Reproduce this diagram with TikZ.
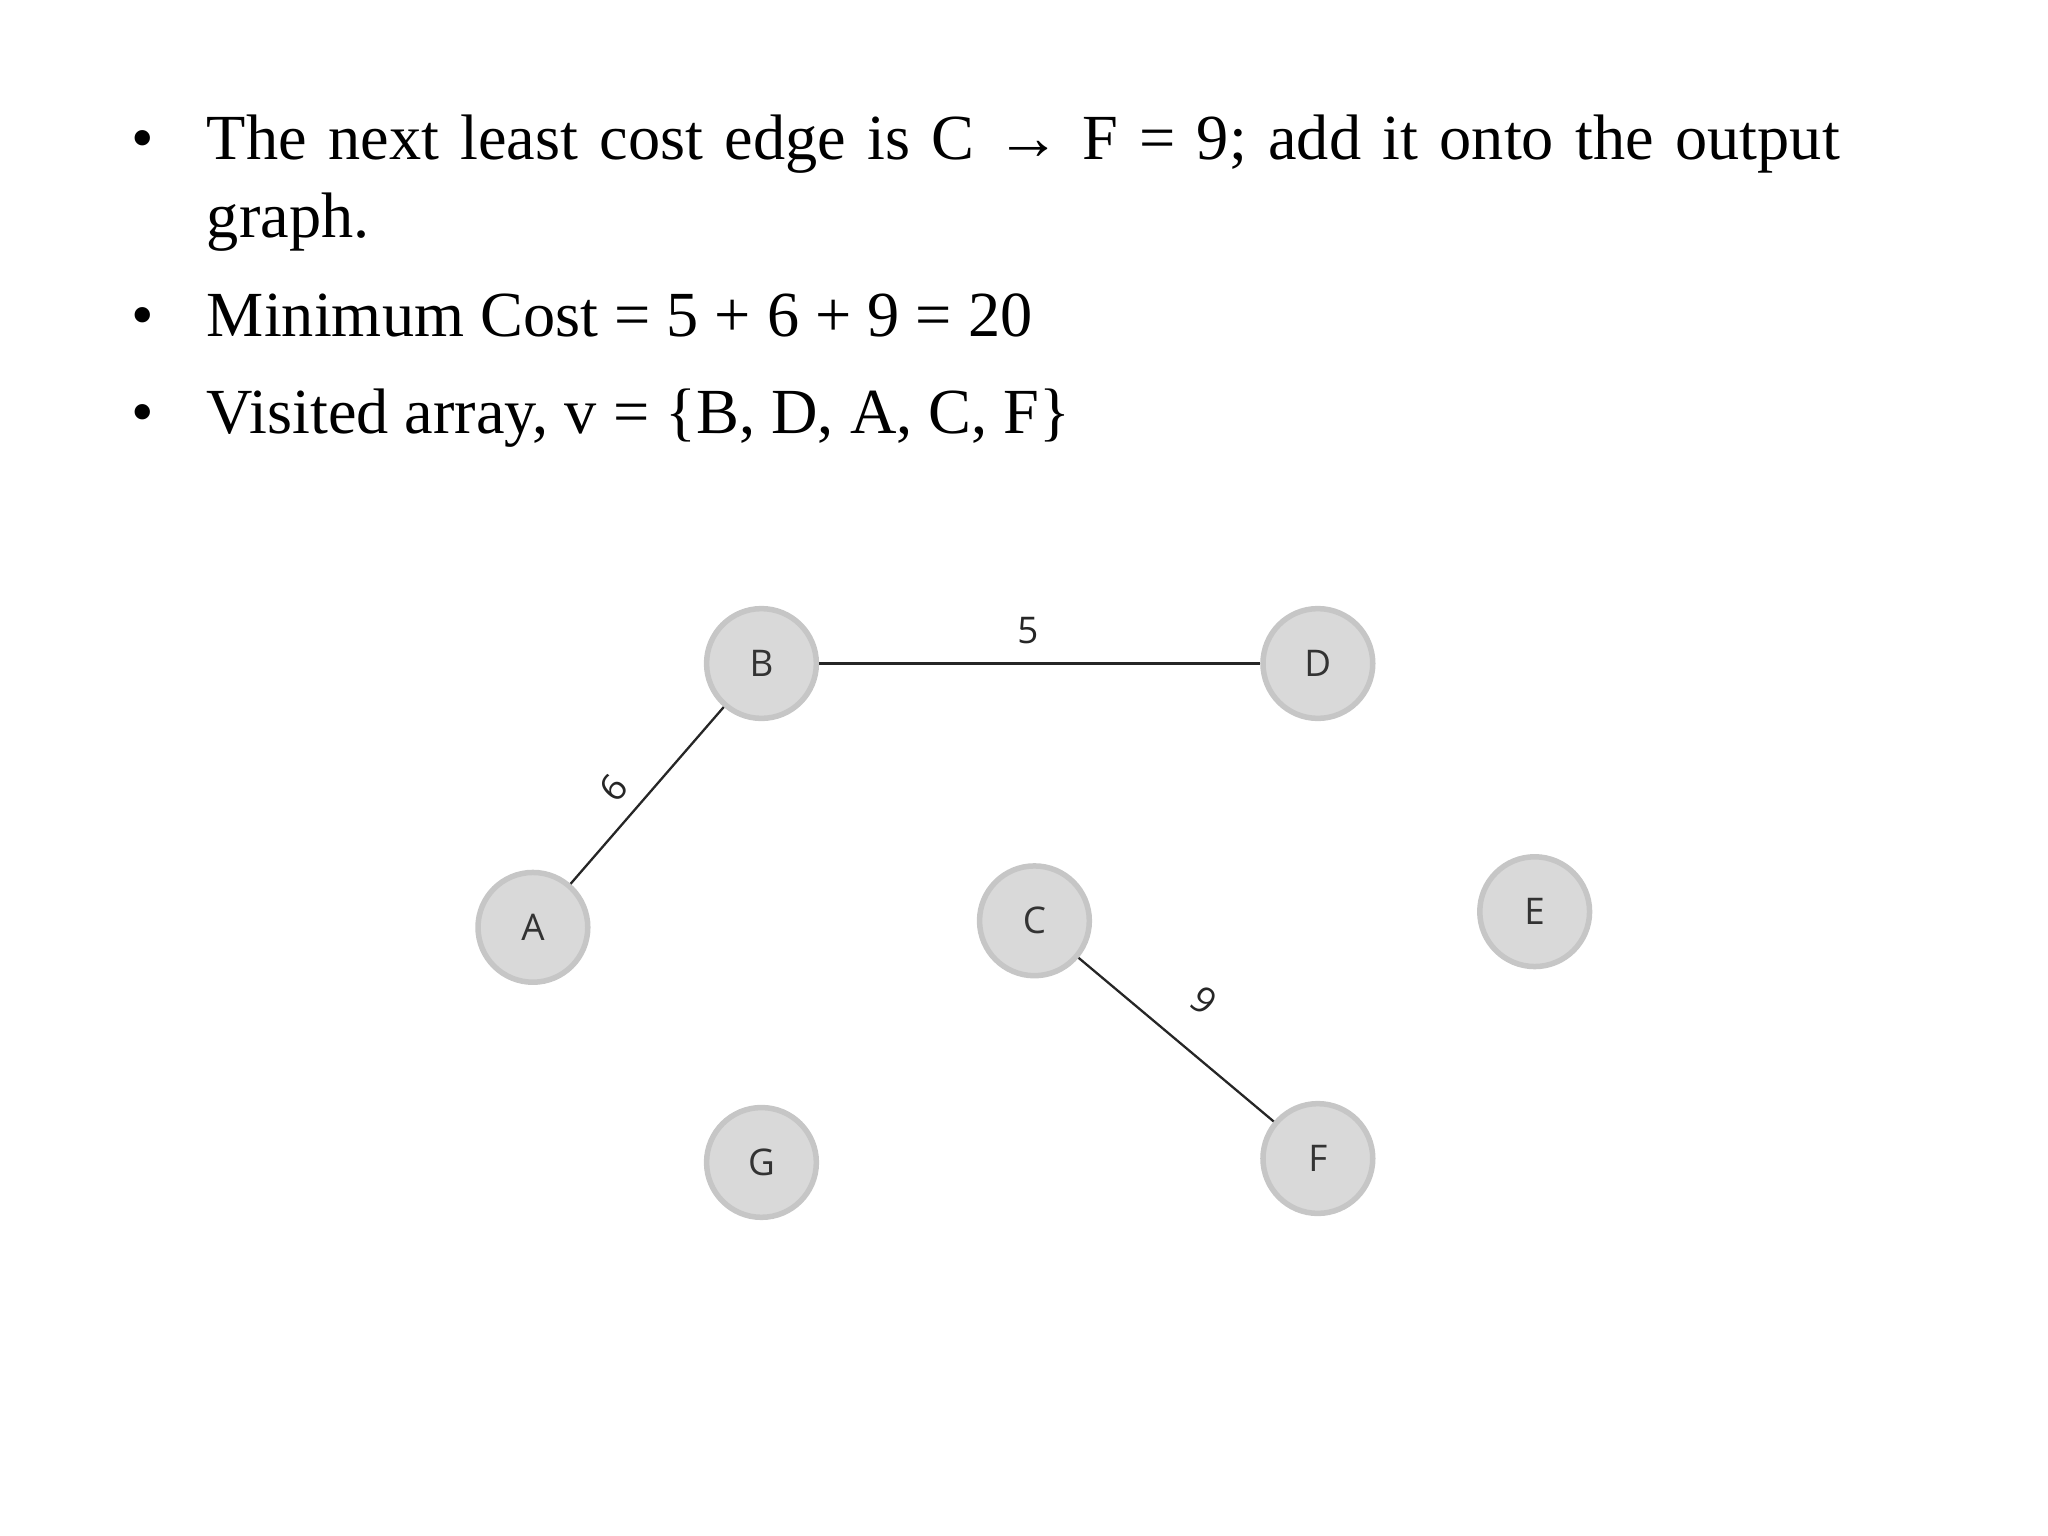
\documentclass[tikz,border=0pt]{standalone}
\usepackage{fontspec}
\setmainfont{Liberation Serif}
\newfontfamily\lblfont{Open Sans}
\begin{document}
\begin{tikzpicture}[x=0.01cm,y=-0.01cm,
  vtx/.style={circle,draw=gray!45,line width=1.2pt,fill=gray!30,minimum size=0.84cm,inner sep=0pt,font=\lblfont\fontsize{8}{9}\selectfont,text=black!80},
  edge/.style={draw=black!85,line width=0.5pt},
  wlbl/.style={font=\lblfont\fontsize{8}{9}\selectfont,text=black!85},
  bul/.style={anchor=base west,font=\fontsize{14}{17}\selectfont,align=left}]
\useasboundingbox (0,0) rectangle (1568,1176);
\node[bul] (b1) at (88,122) {•};
\node[bul,text width=13.2cm] (t1) at (146,122) {The next least cost edge is C → F = 9; add it onto the output graph.};
\node[bul] (b2) at (88,258) {•};
\node[bul] (t2) at (146,258) {Minimum Cost = 5 + 6 + 9 = 20};
\node[bul] (b3) at (88,332) {•};
\node[bul] (t3) at (146,332) {Visited array, v = \{B, D, A, C, F\}};
\node[vtx] (B) at (583,508) {B};
\node[vtx] (D) at (1009,508) {D};
\node[vtx] (A) at (408,710) {A};
\node[vtx] (C) at (792,705) {C};
\node[vtx] (E) at (1175,698) {E};
\node[vtx] (G) at (583,890) {G};
\node[vtx] (F) at (1009,887) {F};
\draw[edge] (B) -- (D);
\draw[edge] (B) -- (A);
\draw[edge] (C) -- (F);
\node[wlbl] (w5) at (787,483) {5};
\node[wlbl,rotate=49] (w6) at (470,603) {6};
\node[wlbl,rotate=-38] (w9) at (922,766) {9};
\end{tikzpicture}
\end{document}
